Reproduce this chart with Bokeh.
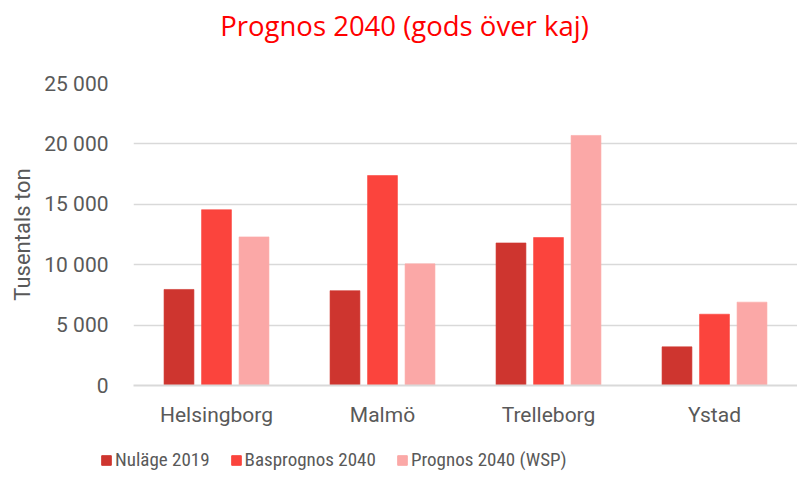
from bokeh.plotting import figure
from bokeh.models import (ColumnDataSource, FactorRange, Range1d, Legend, LegendItem, Label,
                          CustomJSTickFormatter, FixedTicker)
from bokeh.layouts import column
from bokeh.transform import dodge
from bokeh.embed import file_html
from bokeh.resources import INLINE

cities = ["Helsingborg", "Malmö", "Trelleborg", "Ystad"]
nulage_2019 = [7950, 7850, 11800, 3200]
basprognos_2040 = [14550, 17380, 12250, 5900]
prognos_2040_wsp = [12300, 10070, 20700, 6900]
series_names = ["Nuläge 2019", "Basprognos 2040", "Prognos 2040 (WSP)"]
colors = ["#CE352F", "#FB443D", "#FBA8A7"]
y_ticks = [0, 5000, 10000, 15000, 20000, 25000]
title_text = "Prognos 2040 (gods över kaj)"
y_label = "Tusentals ton"

FONT = "Roboto"
GREY = "#595959"
W = 797


def blank(height):
    f = figure(width=W, height=height, x_range=Range1d(0, 1), y_range=Range1d(0, 1),
               output_backend="svg", toolbar_location=None, x_axis_type=None, y_axis_type=None,
               min_border_left=0, min_border_right=0, min_border_top=0, min_border_bottom=0)
    f.outline_line_color = None
    f.xgrid.grid_line_color = None
    f.ygrid.grid_line_color = None
    f.frame_align = False
    return f


# header with title
hf = blank(70)
hf.add_layout(Label(x=404, y=45, x_units="screen", y_units="screen", text=title_text,
                    text_align="center", text_baseline="alphabetic",
                    text_font="Open Sans", text_font_size="27.5px", text_color="#FF0000"))

src = ColumnDataSource(dict(city=cities, a=nulage_2019, b=basprognos_2040, c=prognos_2040_wsp))

p = figure(width=W, height=378, x_range=FactorRange(*cities), y_range=Range1d(0, 25000),
           output_backend="svg", toolbar_location=None,
           min_border_left=133, min_border_right=0, min_border_top=13, min_border_bottom=63)
p.outline_line_color = None
p.frame_align = False

for col, off, color in zip(["a", "b", "c"], [-0.226, 0.0, 0.226], colors):
    p.vbar(x=dodge("city", off, range=p.x_range), top=col, width=0.18, source=src,
           fill_color=color, line_color=color, line_alpha=0.6, line_width=1)

p.xgrid.grid_line_color = None
p.ygrid.grid_line_color = "#D9D9D9"
p.ygrid.grid_line_width = 1.5

p.yaxis.ticker = FixedTicker(ticks=y_ticks)
p.yaxis.formatter = CustomJSTickFormatter(code="""
var s = Math.round(tick).toString();
return s.replace(/\\B(?=(\\d{3})+(?!\\d))/g, ' ');
""")
p.yaxis.axis_line_color = None
p.yaxis.major_tick_line_color = None
p.yaxis.minor_tick_line_color = None
p.yaxis.major_label_text_font = FONT
p.yaxis.major_label_text_font_size = "21px"
p.yaxis.major_label_text_color = GREY
p.yaxis.major_label_standoff = 19
p.yaxis.axis_label = y_label
p.yaxis.axis_label_text_font = FONT
p.yaxis.axis_label_text_font_size = "22px"
p.yaxis.axis_label_text_font_style = "normal"
p.yaxis.axis_label_text_color = GREY
p.yaxis.axis_label_standoff = 6

p.xaxis.axis_line_color = "#D9D9D9"
p.xaxis.axis_line_width = 2
p.xaxis.major_tick_line_color = None
p.xaxis.minor_tick_line_color = None
p.xaxis.major_label_text_font = FONT
p.xaxis.major_label_text_font_size = "21px"
p.xaxis.major_label_text_color = GREY
p.xaxis.major_label_standoff = 11

# legend strip below the chart
lf = blank(23)
dummy = ColumnDataSource(dict(x=[5], top=[5]))
items = []
for name, color in zip(series_names, colors):
    r = lf.vbar(x="x", top="top", width=0.1, source=dummy, fill_color=color, line_color=color)
    items.append(LegendItem(label=name, renderers=[r]))
legend = Legend(items=items, orientation="horizontal", location=(100, 0))
legend.glyph_width = 12
legend.glyph_height = 12
legend.label_text_font = "Liberation Sans Narrow, Roboto Condensed, Roboto"
legend.label_text_font_size = "19px"
legend.label_text_color = GREY
legend.label_standoff = 3
legend.spacing = 20
legend.padding = 0
legend.margin = 0
legend.border_line_color = None
legend.background_fill_alpha = 0
lf.add_layout(legend, "center")

layout = column(hf, p, lf, spacing=0)
open("out.html", "w").write(file_html(layout, INLINE))
